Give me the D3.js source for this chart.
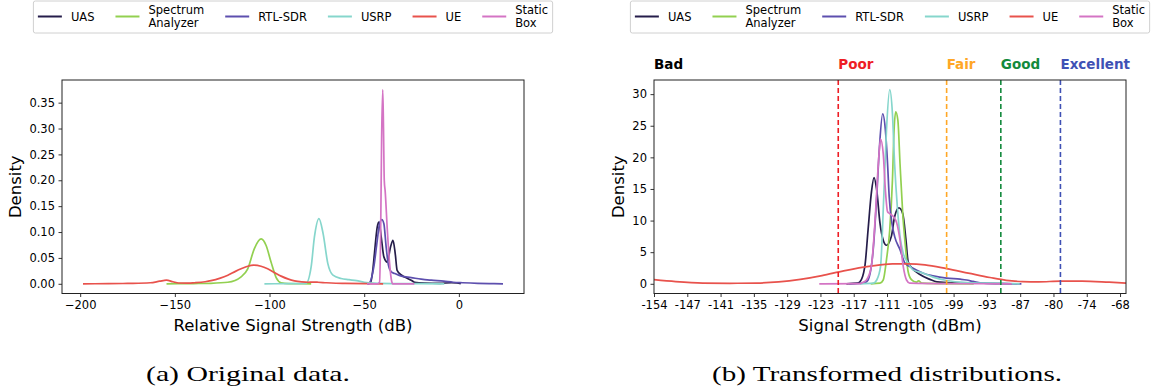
<!DOCTYPE html>
<html>
<head>
<meta charset="utf-8">
<script src="https://cdn.jsdelivr.net/npm/d3@7"></script>
<style>
  body { margin: 0; background: #fff; }
  svg { display: block; }
  text { font-family: "DejaVu Sans", sans-serif; fill: #000; }
</style>
</head>
<body>
<svg id="chart" width="1152" height="390"></svg>
<script>
// series names and colours (legend order)
const seriesNames = ["UAS", "Spectrum Analyzer", "RTL-SDR", "USRP", "UE", "Static Box"];
const seriesLines = [["UAS"], ["Spectrum", "Analyzer"], ["RTL-SDR"], ["USRP"], ["UE"], ["Static", "Box"]];
const seriesColors = ["#251d4a", "#92d050", "#5d4fae", "#86d6cc", "#e8524c", "#d474c4"];

// (a) original data: [dB, density]
const uasOrig = [[-48,0],[-46.7,0.002],[-45.5,0.025],[-44.6,0.058],[-43.1,0.11],[-42.2,0.119],[-41,0.09],[-39.6,0.052],[-37.8,0.042],[-36.1,0.071],[-34.8,0.084],[-33.6,0.058],[-32.6,0.026],[-30.4,0.017],[-27.8,0.0115],[-25.2,0.007],[-23.4,0.003],[-18,0.0015],[-10,0.001],[-4,0.002],[-1,0.0015],[1,0]];
const specOrig = [[-154.4,0],[-140,0.0005],[-131,0.001],[-122,0.003],[-115,0.0135],[-111.5,0.029],[-108,0.068],[-104.4,0.0866],[-101.8,0.074],[-99.2,0.042],[-96.5,0.012],[-93.9,0.002],[-90,0.0003],[-78,0]];
const rtlOrig = [[-48.5,0],[-47.2,0.002],[-44.9,0.033],[-43.1,0.084],[-41.9,0.116],[-40.7,0.124],[-39.6,0.116],[-38.4,0.071],[-37.2,0.036],[-35.7,0.023],[-34,0.02],[-30.4,0.0147],[-25.2,0.012],[-19.9,0.009],[-14.6,0.007],[-8,0.005],[-3,0.003],[2,0.002],[10,0.0008],[16,0.0003],[23.3,0]];
const usrpOrig = [[-102.7,0],[-90,0.0003],[-80.7,0.001],[-78,0.033],[-76.3,0.09],[-73.9,0.126],[-71.7,0.097],[-69.2,0.039],[-66.5,0.0167],[-62.2,0.0103],[-58,0.008],[-54,0.006],[-50,0.003],[-45,0.0012],[-35,0.0005],[-20,0.0003],[-7.7,0]];
const ueOrig = [[-198.5,0],[-185,0.0002],[-175,0.0008],[-163,0.002],[-158,0.005],[-154.5,0.007],[-151,0.004],[-148,0.0015],[-143,0.0012],[-139.6,0.002],[-134,0.004],[-130.9,0.006],[-126,0.011],[-122,0.0167],[-118,0.024],[-115,0.029],[-111.5,0.034],[-108.3,0.036],[-104.5,0.034],[-101,0.029],[-97.5,0.022],[-93.9,0.0148],[-90,0.009],[-86.8,0.0058],[-83,0.0038],[-79.7,0.003],[-77,0.0033],[-74.4,0.003],[-70,0.002],[-67.4,0.0015],[-60,0.0008],[-50,0.0003],[-40,0]];
const staticOrig = [[-48.5,0],[-43,0],[-41.9,0.003],[-41.3,0.1],[-40.8,0.28],[-40.2,0.375],[-39.8,0.3],[-39.4,0.2],[-38.9,0.178],[-37.8,0.105],[-36.6,0.04],[-35.5,0.005],[-35,0],[-23.5,0]];

// (b) transformed distributions: [dBm, density]
const uasTrans = [[-118.5,0],[-116.5,0.1],[-116,0.3],[-115.1,2.7],[-114.5,8.5],[-113.9,14.3],[-113.4,16.8],[-112.9,14.8],[-112.3,9.6],[-111.7,6.9],[-111.1,6.1],[-110.2,7.5],[-109.6,10.6],[-108.8,12.0],[-108.1,11.1],[-107.5,6.9],[-107.1,3.5],[-106.5,2.6],[-105,1.5],[-103.1,0.7],[-101.8,0.3],[-99,0.15],[-95,0.1],[-90,0.05],[-88,0]];
const specTrans = [[-114,0],[-112.3,0.1],[-111.7,0.6],[-111.1,3.8],[-110.5,8.5],[-110.0,16.4],[-109.7,24.3],[-109.4,27.2],[-109.0,25.9],[-108.6,19.0],[-108.1,11.1],[-107.6,5.9],[-107.1,1.9],[-106.5,0.65],[-105.6,0.25],[-105.2,0.45],[-104.5,0.1],[-100,0.02],[-95,0]];
const rtlTrans = [[-118,0],[-116,0.05],[-115,0.2],[-114.5,0.6],[-113.5,5.9],[-112.9,13.8],[-112.4,21.6],[-111.8,26.9],[-111.3,24.3],[-110.9,19.0],[-110.6,13.8],[-110.1,9.6],[-109.6,7.5],[-108.6,5.4],[-107.7,3.3],[-106.2,2.47],[-104.3,1.68],[-102.5,1.26],[-100,0.89],[-97.5,0.73],[-96.3,0.6],[-95.1,0.37],[-93.2,0.1],[-90,0.02],[-86.2,0]];
const usrpTrans = [[-116,0],[-113.5,0.1],[-112.9,0.6],[-112.2,2.7],[-111.6,13.8],[-111.1,24.3],[-110.5,30.7],[-110.0,26.9],[-109.6,19.0],[-109.1,12.2],[-108.6,7.5],[-108.0,4.8],[-107.1,3.3],[-106.2,2.2],[-104.3,1.68],[-102.5,1.05],[-100,0.52],[-96.3,0.2],[-92,0.1],[-86.5,0]];
const ueTrans = [[-154,0.65],[-150,0.35],[-145,0.12],[-140,0.08],[-135,0.12],[-131,0.3],[-127,0.7],[-123,1.3],[-119,2.05],[-114,2.8],[-110,3.15],[-107,3.15],[-104,3.0],[-100,2.4],[-96,1.7],[-92,1.0],[-89,0.55],[-86,0.35],[-83,0.3],[-79,0.42],[-75,0.42],[-70,0.25],[-66.9,0.12]];
const staticTrans = [[-123.5,0],[-116,0.02],[-115.5,0.2],[-114.8,0.6],[-113.9,2.7],[-113.2,10.1],[-112.6,19.0],[-112.2,22.9],[-111.7,20.6],[-111.3,14.8],[-110.9,11.4],[-110.5,11.1],[-109.8,10.6],[-109.2,9.6],[-108.6,6.9],[-108.0,2.7],[-107.4,0.6],[-106.8,0.1],[-100,0.02],[-88,0]];

const origData = [uasOrig, specOrig, rtlOrig, usrpOrig, ueOrig, staticOrig];
const transData = [uasTrans, specTrans, rtlTrans, usrpTrans, ueTrans, staticTrans];

// ticks
const origXTicks = [-200, -150, -100, -50, 0];
const origYTicks = [0, 0.05, 0.1, 0.15, 0.2, 0.25, 0.3, 0.35];
const transXTickLabels = ["-154","-147","-141","-135","-129","-123","-117","-111","-105","-99","-93","-87","-80","-74","-68"];
const transYTicks = [0, 5, 10, 15, 20, 25, 30];

// quality thresholds
const qualityNames = ["Bad", "Poor", "Fair", "Good", "Excellent"];
const qualityStarts = [-154, -120, -100, -90, -79];
const qualityColors = ["#000000", "#ee1d24", "#ffa726", "#138a3c", "#3f51b5"];

const svg = d3.select("#chart");
const plotTop = 80, plotBottom = 293.5;

function drawLegend(cx) {
  const g = svg.append("g");
  const fs = 11.5, handle = 24, pad = 9, gap = 21;
  const items = [];
  let x = 0;
  seriesLines.forEach((lines, i) => {
    const ig = g.append("g");
    ig.append("line").attr("x1", 0).attr("x2", handle).attr("y1", 0).attr("y2", 0)
      .attr("stroke", seriesColors[i]).attr("stroke-width", 2);
    const t = ig.append("text").attr("x", handle + pad).attr("font-size", fs);
    lines.forEach((s, k) => {
      t.append("tspan").attr("x", handle + pad)
        .attr("y", lines.length === 1 ? 0 : (k === 0 ? -6.8 : 6.8))
        .attr("dy", "0.35em").text(s);
    });
    const w = d3.max(t.selectAll("tspan").nodes(), n => n.getComputedTextLength());
    items.push({ g: ig, x: x });
    x += handle + pad + w + gap;
  });
  const total = x - gap;
  const x0 = cx - total / 2;
  const cy = 16.5;
  g.insert("rect", ":first-child")
    .attr("x", x0 - 4.5).attr("y", 1).attr("width", total + 9).attr("height", 32)
    .attr("rx", 2).attr("fill", "#fff").attr("stroke", "#d0d0d0").attr("stroke-width", 1);
  items.forEach(it => it.g.attr("transform", `translate(${x0 + it.x},${cy})`));
}

function drawPanel(opts) {
  const x = d3.scaleLinear().domain(opts.xDomain).range([opts.left, opts.right]);
  const y = d3.scaleLinear().domain(opts.yDomain).range([plotBottom, plotTop]);
  const g = svg.append("g");

  const xAxis = d3.axisBottom(x).tickValues(opts.xTicks).tickSize(3.5).tickSizeOuter(0).tickPadding(3.5)
    .tickFormat(opts.xFormat);
  const yAxis = d3.axisLeft(y).tickValues(opts.yTicks).tickSize(3.5).tickSizeOuter(0).tickPadding(3.5)
    .tickFormat(opts.yFormat);

  const gx = g.append("g").attr("transform", `translate(0,${plotBottom})`).call(xAxis);
  const gy = g.append("g").attr("transform", `translate(${opts.left},0)`).call(yAxis);
  [gx, gy].forEach(a => {
    a.select(".domain").remove();
    a.selectAll("text").attr("font-size", 11.5).attr("font-family", "DejaVu Sans").attr("fill", "#000");
    a.selectAll("line").attr("stroke", "#000").attr("stroke-width", 0.8);
  });

  const line = d3.line().x(d => x(d[0])).y(d => y(d[1])).curve(d3.curveMonotoneX);
  const plot = g.append("g");
  opts.data.forEach((s, i) => {
    plot.append("path").attr("d", line(s)).attr("fill", "none")
      .attr("stroke", seriesColors[i]).attr("stroke-width", 1.7).attr("stroke-linejoin", "round");
  });

  if (opts.extra) opts.extra(g, x, y);

  g.append("rect").attr("x", opts.left).attr("y", plotTop)
    .attr("width", opts.right - opts.left).attr("height", plotBottom - plotTop)
    .attr("fill", "none").attr("stroke", "#222").attr("stroke-width", 1);

  g.append("text").attr("x", (opts.left + opts.right) / 2).attr("y", 330.5)
    .attr("text-anchor", "middle").attr("font-size", 16.5).text(opts.xLabel);
  g.append("text").attr("transform", `translate(${opts.yLabelX},${(plotTop + plotBottom) / 2}) rotate(-90)`)
    .attr("text-anchor", "middle").attr("dy", "0.35em").attr("font-size", 16.5).text("Density");

  g.append("text").attr("x", opts.captionX).attr("y", 381)
    .attr("text-anchor", "middle").attr("font-size", 22)
    .style("font-family", "'Liberation Serif', serif")
    .attr("textLength", opts.captionW).attr("lengthAdjust", "spacingAndGlyphs")
    .text(opts.caption);
  drawLegend((opts.left + opts.right) / 2);
}

// panel (a)
drawPanel({
  left: 62, right: 524,
  xDomain: [-209.6, 34.4], yDomain: [-0.01875, 0.39375],
  xTicks: origXTicks, yTicks: origYTicks,
  xFormat: d => d < 0 ? "\u2212" + Math.abs(d) : String(d),
  yFormat: d3.format(".2f"),
  data: origData,
  xLabel: "Relative Signal Strength (dB)",
  yLabelX: 15,
  caption: "(a) Original data.", captionX: 248, captionW: 204
});

// panel (b)
const transLo = -154, transHi = -68;
const transTickPos = transXTickLabels.map((_, i) => transLo + i * (transHi - transLo) / (transXTickLabels.length - 1));
drawPanel({
  left: 654, right: 1126,
  xDomain: [-154, -66.9], yDomain: [-1.535, 32.235],
  xTicks: transTickPos, yTicks: transYTicks,
  xFormat: (d, i) => transXTickLabels[i],
  yFormat: d3.format("d"),
  data: transData,
  xLabel: "Signal Strength (dBm)",
  yLabelX: 618.5,
  caption: "(b) Transformed distributions.", captionX: 887, captionW: 350,
  extra: (g, x, y) => {
    qualityStarts.forEach((v, i) => {
      if (i > 0) {
        g.append("line").attr("x1", x(v)).attr("x2", x(v)).attr("y1", plotTop).attr("y2", plotBottom)
          .attr("stroke", qualityColors[i]).attr("stroke-width", 1.6).attr("stroke-dasharray", "5,3");
      }
      g.append("text").attr("x", x(v)).attr("y", 69)
        .attr("font-size", 13.5).attr("font-weight", "bold")
        .style("fill", qualityColors[i]).text(qualityNames[i]);
    });
  }
});
</script>
</body>
</html>
